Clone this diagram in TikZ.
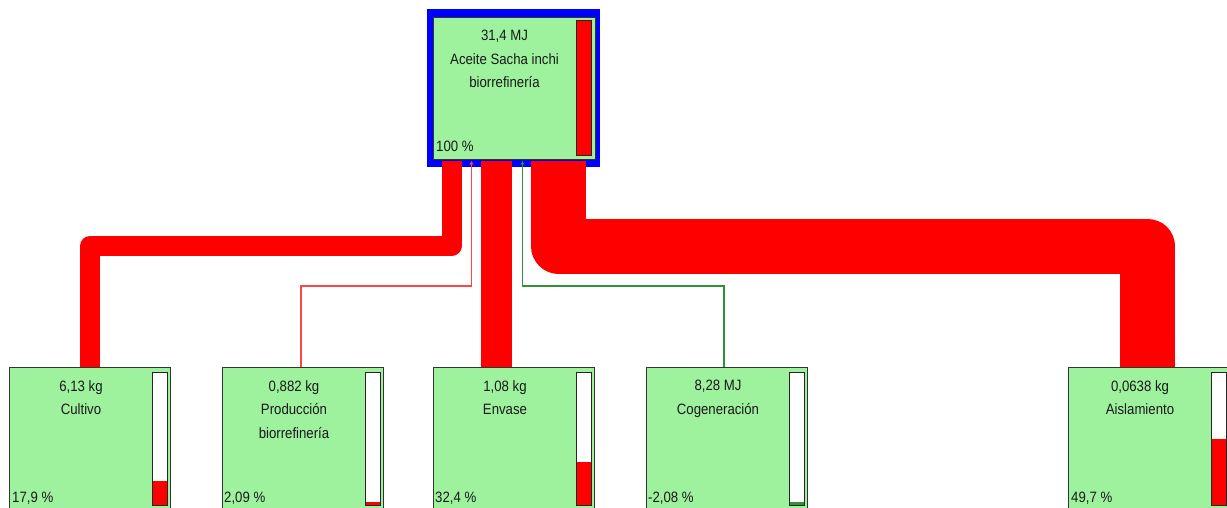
\documentclass[tikz,border=0pt]{standalone}
\usepackage{fontspec}
\setmainfont{Liberation Sans}[FakeStretch=0.88]
\usetikzlibrary{calc,arrows.meta}
\pgfdeclarelayer{bg}
\pgfdeclarelayer{conn}
\pgfsetlayers{bg,conn,main}
\definecolor{boxgreen}{RGB}{158,242,158}
\definecolor{flowred}{RGB}{255,0,0}
\definecolor{thinred}{RGB}{255,70,70}
\definecolor{thingreen}{RGB}{50,145,50}
\definecolor{framblue}{RGB}{0,0,255}
\newcommand\impbar[3]{%
  \fill[white] ($(#1.north west)+(143,5)$) rectangle ($(#1.north west)+(158,138)$);
  \fill[#3] ($(#1.north west)+(143,{138-#2})$) rectangle ($(#1.north west)+(158,138)$);
  \draw[black!85,line width=1pt] ($(#1.north west)+(143,5)$) rectangle ($(#1.north west)+(158,138)$);
}
\begin{document}
\begin{tikzpicture}[x=1pt,y=-1pt,
  box/.style={draw=black!80,line width=1pt,fill=boxgreen,inner sep=0pt,
    minimum width=161pt,minimum height=142pt,anchor=north west},
  lbl/.style={font=\fontsize{15}{23.5}\selectfont,align=center,inner sep=0pt,
    text=black!90,anchor=north},
  pct/.style={font=\fontsize{15}{16}\selectfont,inner sep=0pt,text=black!90,
    anchor=base west},
  thick flow/.style={draw=flowred,line join=round,line cap=butt},
  thin flow/.style={line width=1.3pt,{Stealth[length=4pt,width=4pt]}-}]
\useasboundingbox (0,0) rectangle (1227,508);

% ---- top node (behind the flows)
\begin{pgfonlayer}{bg}
  \node[fill=framblue,inner sep=0pt,minimum width=173pt,minimum height=158pt,
        anchor=north west] (topframe) at (427,9) {};
  \node[box,minimum width=162pt] (top) at (433,17) {};
  \fill[flowred] ($(top.north west)+(143,4)$) rectangle ($(top.north west)+(158,139)$);
  \draw[black!85,line width=1pt] ($(top.north west)+(143,4)$) rectangle ($(top.north west)+(158,139)$);
  \node[lbl] (toptxt) at ($(top.north west)+(71.5,13)$) {31,4 MJ\\Aceite Sacha inchi\\biorrefinería};
  \node[pct] (toppct) at ($(top.north west)+(3,135)$) {100 \%};
\end{pgfonlayer}

% ---- bottom nodes
\node[box] (cult) at (9,367) {};
\impbar{cult}{23.8}{flowred}
\node[lbl] (culttxt) at ($(cult.north west)+(72,13)$) {6,13 kg\\Cultivo};
\node[pct] (cultpct) at ($(cult.north west)+(3,135)$) {17,9 \%};

\node[box] (prod) at (222,367) {};
\impbar{prod}{2.8}{flowred}
\node[lbl] (prodtxt) at ($(prod.north west)+(72,13)$) {0,882 kg\\Producción\\biorrefinería};
\node[pct] (prodpct) at ($(prod.north west)+(2,135)$) {2,09 \%};

\node[box] (env) at (433,367) {};
\impbar{env}{43.1}{flowred}
\node[lbl] (envtxt) at ($(env.north west)+(72,13)$) {1,08 kg\\Envase};
\node[pct] (envpct) at ($(env.north west)+(2,135)$) {32,4 \%};

\node[box] (cog) at (646,367) {};
\impbar{cog}{2.8}{thingreen}
\node[lbl] (cogtxt) at ($(cog.north west)+(72,13)$) {8,28 MJ\\Cogeneración};
\node[pct] (cogpct) at ($(cog.north west)+(2,135)$) {-2,08 \%};

\node[box] (ais) at (1068,367) {};
\impbar{ais}{66.1}{flowred}
\node[lbl] (aistxt) at ($(ais.north west)+(72,13)$) {0,0638 kg\\Aislamiento};
\node[pct] (aispct) at ($(ais.north west)+(3,135)$) {49,7 \%};

% ---- flows
\begin{pgfonlayer}{conn}
  \coordinate (sCult) at ([xshift=-63pt,yshift=-1pt]top.south);
  \coordinate (sProd) at ([xshift=-43pt,yshift=-1pt]top.south);
  \coordinate (sEnv)  at ([xshift=-18pt,yshift=-1pt]top.south);
  \coordinate (sCog)  at ([xshift=8pt,yshift=-1pt]top.south);
  \coordinate (sAis)  at ([xshift=44pt,yshift=-1pt]top.south);

  \draw[thick flow,line width=20pt] (sCult) -- ++(0,85) -| (cult.north);
  \draw[thick flow,line width=31pt] (sEnv) -- (sEnv |- env.north);
  \draw[thick flow,line width=55pt] (sAis) -- ++(0,85) -| ([xshift=-1.5pt]ais.north);
  \draw[thin flow,draw=thinred] (sProd) -- ++(0,125) -| ([xshift=-2pt]prod.north);
  \draw[thin flow,draw=thingreen] (sCog) -- ++(0,125) -| ([xshift=-3pt]cog.north);
\end{pgfonlayer}
\end{tikzpicture}
\end{document}
